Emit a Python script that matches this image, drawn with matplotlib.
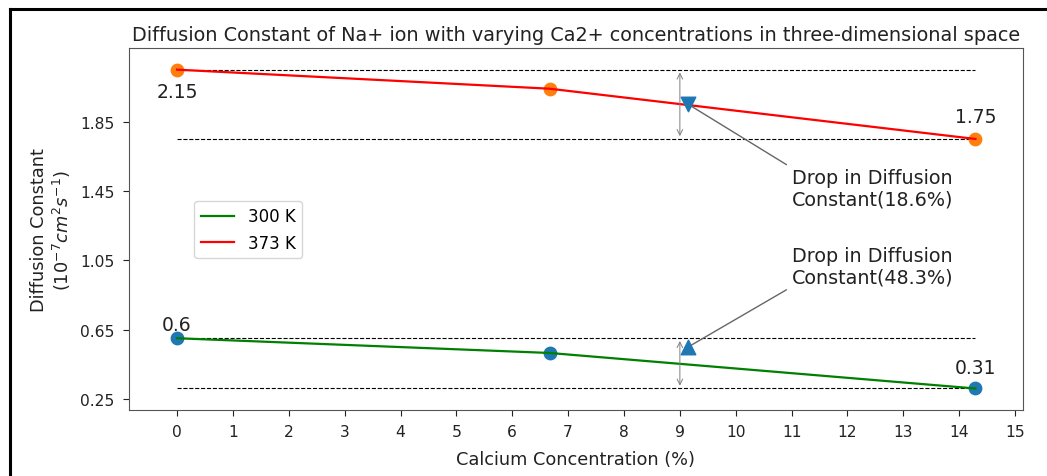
import matplotlib
matplotlib.use("Agg")
import matplotlib.pyplot as plt
from matplotlib.lines import Line2D

# calcium concentration (%)
ca_conc = [0, 6.67, 14.29]
# diffusion constants (1e-7 cm^2/s)
d_300 = [0.60, 0.515, 0.31]
d_373 = [2.15, 2.04, 1.75]

drop_300 = "48.3%"
drop_373 = "18.6%"
xticks = list(range(0, 16))
yticks = [0.25, 0.65, 1.05, 1.45, 1.85]

fig = plt.figure(figsize=(10.47, 4.77), dpi=100)
ax = fig.add_axes([0.1232, 0.1384, 0.8538, 0.7589])

# reference levels for the first and last points
for d in (d_373, d_300):
    for v in (d[0], d[-1]):
        ax.hlines(v, ca_conc[0], ca_conc[-1], colors="black", linestyles="--", linewidth=0.8)

ax.scatter(ca_conc, d_300, s=80, color="C0", zorder=2)
ax.scatter(ca_conc, d_373, s=80, color="C1", zorder=2)
ax.plot(ca_conc, d_300, color="green", linewidth=1.6, label="300 K", zorder=3)
ax.plot(ca_conc, d_373, color="red", linewidth=1.6, label="373 K", zorder=3)

# value labels at the ends
ax.annotate(f"{d_373[0]:g}", (ca_conc[0], d_373[0]), xytext=(0, -16), textcoords="offset points",
            ha="center", va="center", fontsize=13.5, color="#222222")
ax.annotate(f"{d_373[-1]:g}", (ca_conc[-1], d_373[-1]), xytext=(0, 16), textcoords="offset points",
            ha="center", va="center", fontsize=13.5, color="#222222")
ax.annotate(f"{d_300[0]:g}", (ca_conc[0], d_300[0]), xytext=(0, 10), textcoords="offset points",
            ha="center", va="center", fontsize=13.5, color="#222222")
ax.annotate(f"{d_300[-1]:g}", (ca_conc[-1], d_300[-1]), xytext=(0, 15), textcoords="offset points",
            ha="center", va="center", fontsize=13.5, color="#222222")

# double arrows showing the drop
for d in (d_373, d_300):
    ax.annotate("", xy=(9, d[-1]), xytext=(9, d[0]),
                arrowprops=dict(arrowstyle="<->", color="gray", lw=0.7))

ax.scatter([9.15], [1.95], marker="v", s=110, color="C0", zorder=6)
ax.scatter([9.15], [0.55], marker="^", s=110, color="C0", zorder=6)
ax.annotate("Drop in Diffusion\nConstant(" + drop_373 + ")", xy=(9.15, 1.95), xytext=(11.0, 1.37),
            fontsize=13.8, color="#222222",
            arrowprops=dict(arrowstyle="-", color="#666666", lw=1.0, relpos=(0, 1)))
ax.annotate("Drop in Diffusion\nConstant(" + drop_300 + ")", xy=(9.15, 0.55), xytext=(11.0, 0.92),
            fontsize=13.8, color="#222222",
            arrowprops=dict(arrowstyle="-", color="#666666", lw=1.0, relpos=(0, 0)))

ax.set_xlim(-0.86, 15.14)
ax.set_ylim(0.186, 2.275)
ax.set_xticks(xticks)
ax.set_yticks(yticks)
ax.tick_params(labelsize=11.2, colors="#222222", length=4.3, pad=6)
for s in ax.spines.values():
    s.set_color("#555555")

ax.set_xlabel("Calcium Concentration (%)", fontsize=12.8, color="#222222", labelpad=7.5)
ax.set_ylabel("Diffusion Constant\n($10^{-7}cm^{2}s^{-1}$)", fontsize=12.8, color="#222222",
              labelpad=5)
ax.set_title("Diffusion Constant of Na+ ion with varying Ca2+ concentrations in three-dimensional space",
             fontsize=13.9, color="#222222")
ax.legend(loc="upper left", bbox_to_anchor=(0.073, 0.578), borderaxespad=0, fontsize=12)

# black frame on the left and top edges
fig.add_artist(Line2D([10 / 1047, 10 / 1047], [0, 1 - 10 / 477], color="black", linewidth=2.2,
                      transform=fig.transFigure))
fig.add_artist(Line2D([10 / 1047, 1], [1 - 10 / 477, 1 - 10 / 477], color="black", linewidth=2.2,
                      transform=fig.transFigure))

fig.savefig("out.png", dpi=100)
